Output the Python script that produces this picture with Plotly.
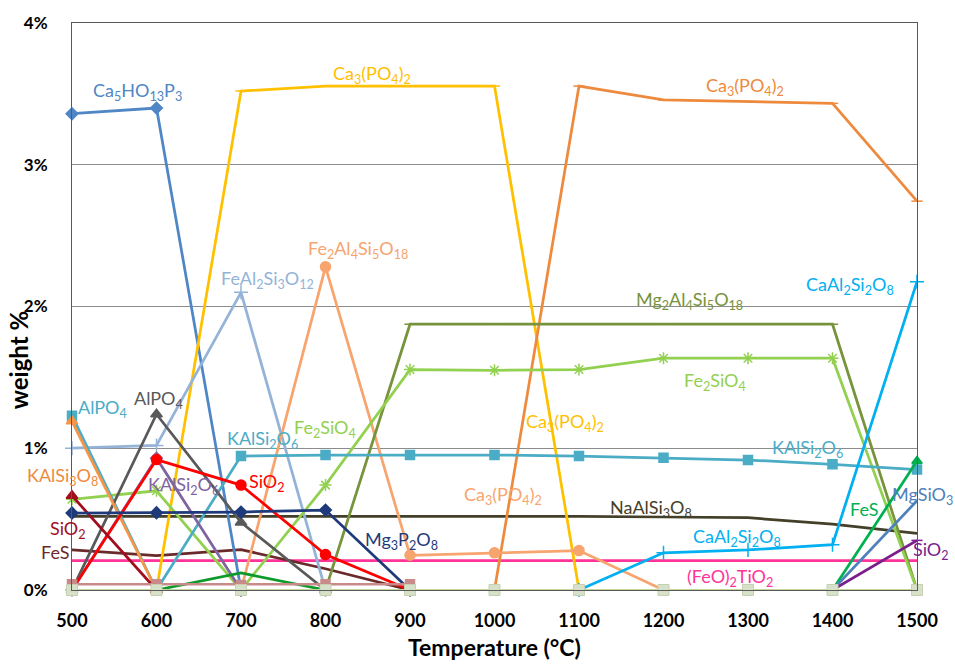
import plotly.graph_objects as go

N = None
temperatures = [500, 600, 700, 800, 900, 1000, 1100, 1200, 1300, 1400, 1500]

ca5ho13p3 = [3.36, 3.40, 0, N, N, N, N, N, N, N, N]
ca3po42_yellow = [N, 0, 3.52, 3.555, 3.555, 3.555, 0, N, N, N, N]
ca3po42_orange = [N, N, N, N, N, 0, 3.555, 3.457, 3.447, 3.433, 2.743]
fe2al4si5o18 = [N, N, 0, 2.28, 0.245, 0.262, 0.278, 0, N, N, N]
feal2si3o12 = [1.0, 1.02, 2.10, 0, N, N, N, N, N, N, N]
mg2al4si5o18 = [N, N, N, 0, 1.875, 1.875, 1.875, 1.875, 1.875, 1.875, 0]
fe2sio4 = [0.64, 0.70, 0, 0.74, 1.555, 1.55, 1.555, 1.635, 1.635, 1.635, 0]
alpo4_teal = [1.23, 0, N, N, N, N, N, N, N, N, N]
kalsi2o6_teal = [N, 0, 0.945, 0.952, 0.952, 0.952, 0.945, 0.933, 0.917, 0.887, 0.85]
alpo4_gray = [0, 1.24, 0.477, 0, N, N, N, N, N, N, N]
kalsi3o8 = [1.19, 0, N, N, N, N, N, N, N, N, N]
kalsi2o6_purple = [0, 0.93, 0, N, N, N, N, N, N, N, N]
sio2_red = [0, 0.92, 0.74, 0.25, 0, N, N, N, N, N, N]
sio2_darkred = [0.665, 0, N, N, N, N, N, N, N, N, N]
fes_brown = [0.283, 0.243, 0.285, 0.15, 0, N, N, N, N, N, N]
naalsi3o8 = [0.52, 0.52, 0.52, 0.525, 0.525, 0.525, 0.52, 0.515, 0.51, 0.465, 0.40]
mg3p2o8 = [0.543, 0.545, 0.55, 0.564, 0, N, N, N, N, N, N]
feo2tio2 = [0.208, 0.208, 0.208, 0.208, 0.208, 0.208, 0.208, 0.208, 0.208, 0.208, 0.208]
caal2si2o8 = [N, N, N, N, N, N, 0, 0.262, 0.283, 0.32, 2.175]
fes_green = [N, N, N, N, N, N, N, N, N, 0, 0.91]
al2o3_b2o3 = [N, 0, 0.12, 0, N, N, N, N, N, N, N]
mgsio3 = [N, N, N, N, N, N, N, N, N, 0, 0.63]
sio2_purple = [N, N, N, N, N, N, N, N, N, 0, 0.35]
baseline_pink = [0.04, 0.04, 0.035, 0.04, 0.04, N, N, N, N, N, N]
baseline_gray = [0, 0, 0, 0, 0, 0, 0, 0, 0, 0, 0]

y_tick_values = [0, 1, 2, 3, 4]
y_tick_labels = ["0%", "1%", "2%", "3%", "4%"]
x_tick_values = temperatures
x_tick_labels = ["500", "600", "700", "800", "900", "1000", "1100", "1200", "1300", "1400", "1500"]

# (values, color, marker symbol, marker size, line width)
series = [
    (feo2tio2, "#FF3399", None, 0, 2.75),
    (naalsi3o8, "#433F28", None, 0, 2.75),
    (fes_brown, "#6B2A2A", None, 0, 2.75),
    (ca5ho13p3, "#4F86C6", "diamond", 9, 2.75),
    (ca3po42_yellow, "#FFC000", "line-ew-open", 8, 2.75),
    (ca3po42_orange, "#EE8A3E", "line-ew-open", 8, 2.75),
    (feal2si3o12, "#95B3D7", "cross-thin-open", 10, 2.75),
    (fe2al4si5o18, "#F7A46E", "circle", 10, 2.75),
    (mg2al4si5o18, "#77933C", "line-ew-open", 8, 2.75),
    (fe2sio4, "#92D050", "asterisk-open", 10, 2.75),
    (alpo4_teal, "#4BACC6", "square", 9, 2.75),
    (kalsi2o6_teal, "#4BACC6", "square", 9, 2.75),
    (alpo4_gray, "#595959", "triangle-up", 10, 2.75),
    (kalsi3o8, "#F79646", "triangle-up", 10, 2.75),
    (kalsi2o6_purple, "#8064A2", "diamond", 9, 2.75),
    (sio2_red, "#FF0000", "circle", 10, 2.75),
    (sio2_darkred, "#A00E1E", "triangle-up", 10, 2.75),
    (mg3p2o8, "#1F3A7A", "diamond", 9, 2.75),
    (caal2si2o8, "#00B0F0", "cross-thin-open", 10, 2.75),
    (al2o3_b2o3, "#0E9A2A", None, 0, 2.75),
    (fes_green, "#00B050", "triangle-up", 9, 2.75),
    (mgsio3, "#4F81BD", None, 0, 2.75),
    (sio2_purple, "#7A1F8C", "line-ew-open", 8, 2.75),
    (baseline_pink, "#C98B8A", "square", 9, 2.5),
    (baseline_gray, "#C3D69B", "square", 10, 2.0),
]

fig = go.Figure()
for vals, color, symbol, size, width in series:
    mode = "lines+markers" if symbol else "lines"
    marker = dict(symbol=symbol, size=size, color=color,
                  line=dict(color=color, width=1.5)) if symbol else None
    if vals is baseline_gray:
        marker = dict(symbol="square", size=11, color="#D7E0C8",
                      line=dict(color="#C5D1B0", width=1))
    fig.add_trace(go.Scatter(
        x=temperatures, y=vals, mode=mode,
        line=dict(color=color, width=width),
        marker=marker, cliponaxis=False, connectgaps=False,
        showlegend=False, hoverinfo="skip"))

# (text, x, y, color, xshift in px)
labels = [
    ("Ca<sub>5</sub>HO<sub>13</sub>P<sub>3</sub>", 578, 3.52, "#4F86C6", 0),
    ("Ca<sub>3</sub>(PO<sub>4</sub>)<sub>2</sub>", 855, 3.64, "#FFC000", 0),
    ("Ca<sub>3</sub>(PO<sub>4</sub>)<sub>2</sub>", 1296, 3.55, "#EE8A3E", 0),
    ("FeAl<sub>2</sub>Si<sub>3</sub>O<sub>12</sub>", 731, 2.19, "#95B3D7", 0),
    ("Fe<sub>2</sub>Al<sub>4</sub>Si<sub>5</sub>O<sub>18</sub>", 838, 2.405, "#F7A46E", 0),
    ("Mg<sub>2</sub>Al<sub>4</sub>Si<sub>5</sub>O<sub>18</sub>", 1231, 2.04, "#77933C", 0),
    ("CaAl<sub>2</sub>Si<sub>2</sub>O<sub>8</sub>", 1421, 2.15, "#00B0F0", 0),
    ("Fe<sub>2</sub>SiO<sub>4</sub>", 1261, 1.47, "#92D050", 0),
    ("AlPO<sub>4</sub>", 535.5, 1.28, "#4BACC6", 0),
    ("AlPO<sub>4</sub>", 602, 1.345, "#595959", 0),
    ("KAlSi<sub>2</sub>O<sub>6</sub>", 725, 1.065, "#4BACC6", 0),
    ("Fe<sub>2</sub>SiO<sub>4</sub>", 799, 1.14, "#92D050", 0),
    ("KAlSi<sub>2</sub>O<sub>6</sub>", 1371, 1.0, "#4BACC6", 0),
    ("KAlSi<sub>3</sub>O<sub>8</sub>", 500, 0.80, "#EE8A3E", -10),
    ("SiO<sub>2</sub>", 731, 0.755, "#FF0000", 0),
    ("KAlSi<sub>2</sub>O<sub>6</sub>", 632.5, 0.74, "#8064A2", 0),
    ("Ca<sub>3</sub>(PO<sub>4</sub>)<sub>2</sub>", 1083, 1.185, "#FFC000", 0),
    ("Ca<sub>3</sub>(PO<sub>4</sub>)<sub>2</sub>", 1010, 0.67, "#F7A46E", 0),
    ("NaAlSi<sub>3</sub>O<sub>8</sub>", 1185, 0.573, "#433F28", 0),
    ("Mg<sub>3</sub>P<sub>2</sub>O<sub>8</sub>", 890.5, 0.35, "#1F3A7A", 0),
    ("SiO<sub>2</sub>", 500, 0.43, "#A00E1E", -4),
    ("FeS", 500, 0.27, "#6B2A2A", -17),
    ("CaAl<sub>2</sub>Si<sub>2</sub>O<sub>8</sub>", 1287, 0.37, "#00B0F0", 0),
    ("(FeO)<sub>2</sub>TiO<sub>2</sub>", 1279, 0.09, "#FF3399", 0),
    ("(Al<sub>2</sub>O<sub>3</sub>)<sub>9</sub>(B<sub>2</sub>O<sub>3</sub>)<sub>2</sub>", 715, -0.08, "#0E9A2A", 0),
    ("FeS", 1437, 0.573, "#00B050", 0),
    ("MgSiO<sub>3</sub>", 1500, 0.67, "#4F81BD", 5),
    ("SiO<sub>2</sub>", 1500, 0.278, "#7A1F8C", 14),
]

FONT = "Lato, 'Open Sans', sans-serif"
annotations = []
for text, x, y, color, xs in labels:
    annotations.append(dict(
        text=text, x=x, y=y, xref="x", yref="y", showarrow=False,
        xanchor="center", yanchor="middle", xshift=xs,
        font=dict(family=FONT, size=18, color=color)))

annotations.append(dict(
    text="weight %", x=-0.064, y=0.405, xref="paper", yref="paper",
    xanchor="center", yanchor="middle", textangle=-90, showarrow=False,
    font=dict(family=FONT, size=24, color="#000000", weight="bold")))
annotations.append(dict(
    text="Temperature (°C)", x=0.5, y=-0.1, xref="paper", yref="paper",
    xanchor="center", yanchor="middle", showarrow=False,
    font=dict(family=FONT, size=23, color="#000000", weight="bold")))

fig.update_layout(
    width=955, height=666,
    margin=dict(l=72, r=38, t=20, b=76),
    paper_bgcolor="white", plot_bgcolor="white",
    annotations=annotations,
    showlegend=False,
    xaxis=dict(
        range=[500, 1500], tickvals=x_tick_values, ticktext=x_tick_labels,
        showgrid=False, zeroline=False, showline=True, mirror=True,
        linecolor="#595959", linewidth=1, ticks="",
        ticklabelstandoff=14,
        tickfont=dict(family=FONT, size=18, color="#000000", weight="bold")),
    yaxis=dict(
        range=[0, 4], tickvals=y_tick_values, ticktext=y_tick_labels,
        showgrid=True, gridcolor="#8C8C8C", gridwidth=1, zeroline=False,
        showline=True, mirror=True, linecolor="#595959", linewidth=1,
        ticks="", ticklabelstandoff=20,
        tickfont=dict(family=FONT, size=17, color="#000000", weight="bold")),
)

fig.write_html(
    "out.html",
    config={"displayModeBar": False},
    post_script="document.body.style.margin='0px';document.body.style.overflow='hidden';",
)
